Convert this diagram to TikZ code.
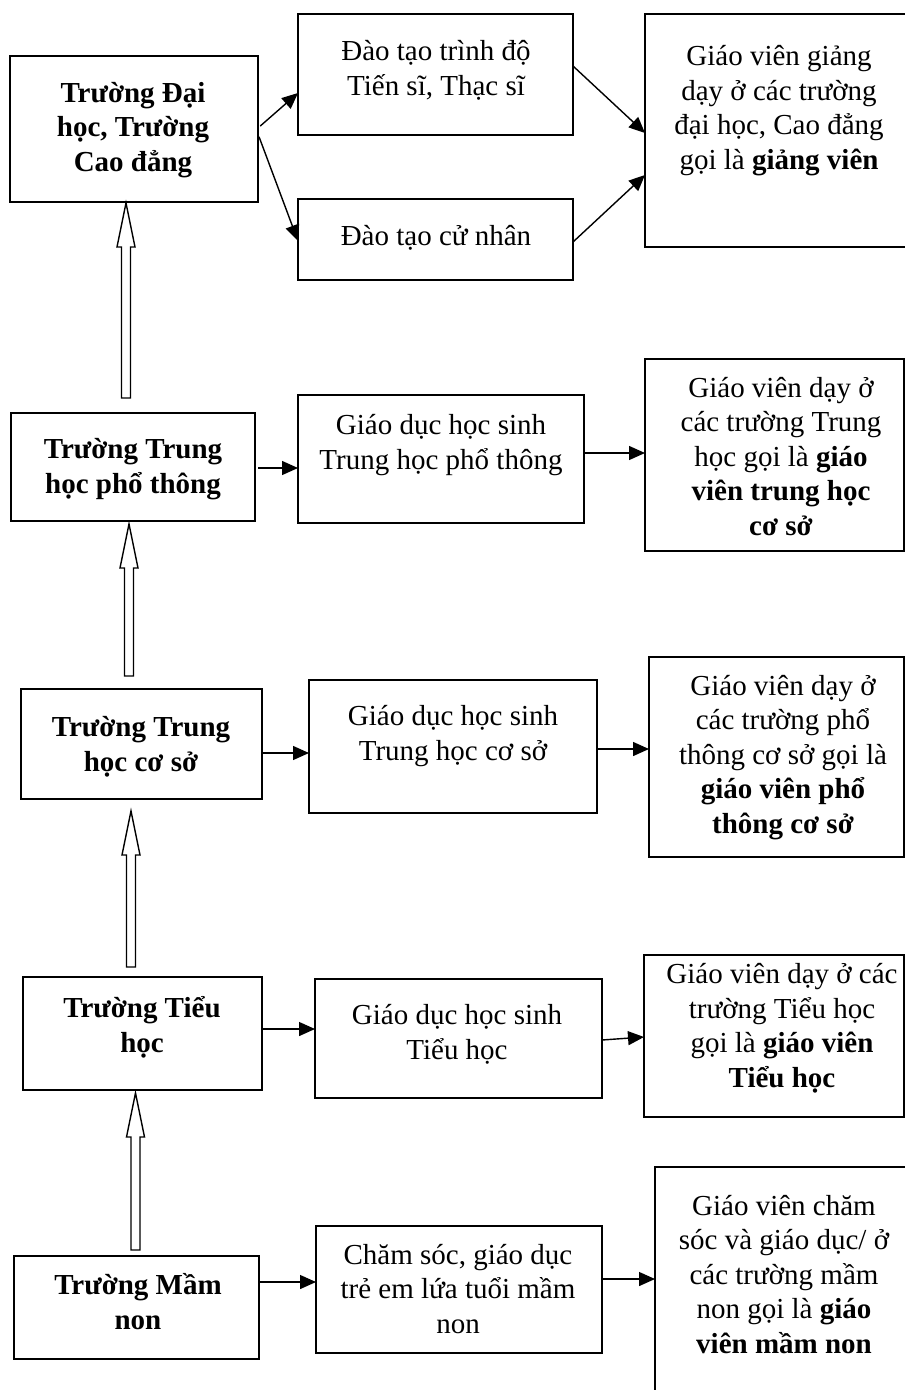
\documentclass[tikz,border=0pt]{standalone}
\usepackage{fontspec}
\setmainfont{Liberation Serif}
\usetikzlibrary{arrows.meta,calc}
\begin{document}
\begin{tikzpicture}[x=1pt,y=-1pt,
  box/.style={draw,line width=1.7pt,inner sep=0pt,outer sep=0pt},
  txt/.style={font=\fontsize{29}{34.5}\selectfont,align=center,inner sep=0pt,anchor=base},
  txtb/.style={txt,font=\fontsize{29}{34.5}\selectfont\bfseries},
  arr/.style={line width=1.4pt,-{Triangle[length=16pt,width=14pt]}},
  hollow/.style={draw,line width=1.4pt,fill=white},
  blockup/.style={to path={let \p1=(\tikztostart), \p2=(\tikztotarget) in
    (\x1-4.5pt,\y1) -- (\x1-4.5pt,\y2-44pt) -- (\x1-9pt,\y2-44pt) -- (\x1,\y2)
    -- (\x1+9pt,\y2-44pt) -- (\x1+4.5pt,\y2-44pt) -- (\x1+4.5pt,\y1) -- cycle}}]
\clip (0,0) rectangle (905,1390);

% boxes
\node[box,minimum width=248pt,minimum height=146pt] (A) at (134,129) {};
\node[box,minimum width=275pt,minimum height=121pt] (B) at (435.5,74.5) {};
\node[box,minimum width=275pt,minimum height=81pt]  (C) at (435.5,239.5) {};
\node[box,minimum width=267pt,minimum height=233pt] (D) at (778.5,130.5) {};
\node[box,minimum width=244pt,minimum height=108pt] (E) at (133,467) {};
\node[box,minimum width=286pt,minimum height=128pt] (F) at (441,459) {};
\node[box,minimum width=259pt,minimum height=192pt] (G) at (774.5,455) {};
\node[box,minimum width=241pt,minimum height=110pt] (H) at (141.5,744) {};
\node[box,minimum width=288pt,minimum height=133pt] (I) at (453,746.5) {};
\node[box,minimum width=255pt,minimum height=200pt] (J) at (776.5,757) {};
\node[box,minimum width=239pt,minimum height=113pt] (K) at (142.5,1033.5) {};
\node[box,minimum width=287pt,minimum height=119pt] (L) at (458.5,1038.5) {};
\node[box,minimum width=260pt,minimum height=162pt] (M) at (774,1036) {};
\node[box,minimum width=245pt,minimum height=103pt] (N) at (136.5,1307.5) {};
\node[box,minimum width=286pt,minimum height=127pt] (O) at (459,1289.5) {};
\node[box,minimum width=260pt,minimum height=233pt] (P) at (785,1283.5) {};

% texts (placed by the baseline of their last line)
\node[txtb] (At) at (133,171) {Trường Đại\\học, Trường\\Cao đẳng};
\node[txt] (Bt) at (436,95) {Đào tạo trình độ\\Tiến sĩ, Thạc sĩ};
\node[txt] (Ct) at (436,245) {Đào tạo cử nhân};
\node[txt] (Dt) at (779,169) {Giáo viên giảng\\dạy ở các trường\\đại học, Cao đẳng\\gọi là \textbf{giảng viên}};
\node[txtb] (Et) at (133,493) {Trường Trung\\học phổ thông};
\node[txt] (Ft) at (441,469) {Giáo dục học sinh\\Trung học phổ thông};
\node[txt] (Gt) at (781,535) {Giáo viên dạy ở\\các trường Trung\\học gọi là \textbf{giáo}\\\textbf{viên trung học}\\\textbf{cơ sở}};
\node[txtb] (Ht) at (141,771) {Trường Trung\\học cơ sở};
\node[txt] (It) at (453,760) {Giáo dục học sinh\\Trung học cơ sở};
\node[txt] (Jt) at (783,833) {Giáo viên dạy ở\\các trường phổ\\thông cơ sở gọi là\\\textbf{giáo viên phổ}\\\textbf{thông cơ sở}};
\node[txtb] (Kt) at (142,1052) {Trường Tiểu\\học};
\node[txt] (Lt) at (457,1059) {Giáo dục học sinh\\Tiểu học};
\node[txt] (Mt) at (782,1087) {Giáo viên dạy ở các\\trường Tiểu học\\gọi là \textbf{giáo viên}\\\textbf{Tiểu học}};
\node[txtb] (Nt) at (138,1329) {Trường Mầm\\non};
\node[txt] (Ot) at (458,1333) {Chăm sóc, giáo dục\\trẻ em lứa tuổi mầm\\non};
\node[txt] (Pt) at (784,1353) {Giáo viên chăm\\sóc và giáo dục/ ở\\các trường mầm\\non gọi là \textbf{giáo}\\\textbf{viên mầm non}};

% thin arrows
\draw[arr,shorten <=3pt] ([yshift=1pt]A.east) -- ([yshift=-18.5pt]B.west);
\draw[arr,shorten <=3pt] ([yshift=-5pt]A.east) -- ([yshift=-1.5pt]C.west);
\draw[arr] ([yshift=8.5pt]B.east) -- ([yshift=-2.5pt]D.west);
\draw[arr] ([yshift=-2.5pt]C.east) -- ([yshift=-44.5pt]D.west);
\draw[arr,shorten <=3pt] ([yshift=-1pt]E.east) -- ([yshift=-1pt]E.east -| F.west);
\draw[arr] ([yshift=6pt]F.east) -- ([yshift=6pt]F.east -| G.west);
\draw[arr] ([yshift=-9pt]H.east) -- ([yshift=-9pt]H.east -| I.west);
\draw[arr] ([yshift=-2.5pt]I.east) -- ([yshift=-2.5pt]I.east -| J.west);
\draw[arr] ([yshift=4.5pt]K.east) -- ([yshift=4.5pt]K.east -| L.west);
\draw[arr] ([yshift=-1.5pt]L.east) -- ([yshift=-1pt]M.west);
\draw[arr] ([yshift=25.5pt]N.east) -- ([yshift=25.5pt]N.east -| O.west);
\draw[arr] ([yshift=10.5pt]O.east) -- ([yshift=10.5pt]O.east -| P.west);

% hollow block arrows between the school levels
\coordinate (u1b) at (126,398);  \coordinate (u1t) at (126,203);
\coordinate (u2b) at (129,676);  \coordinate (u2t) at (129,524);
\coordinate (u3b) at (131,967);  \coordinate (u3t) at (131,811);
\coordinate (u4b) at (135.5,1250); \coordinate (u4t) at (135.5,1093);
\draw[hollow] (u1b) to[blockup] (u1t);
\draw[hollow] (u2b) to[blockup] (u2t);
\draw[hollow] (u3b) to[blockup] (u3t);
\draw[hollow] (u4b) to[blockup] (u4t);
\end{tikzpicture}
\end{document}
